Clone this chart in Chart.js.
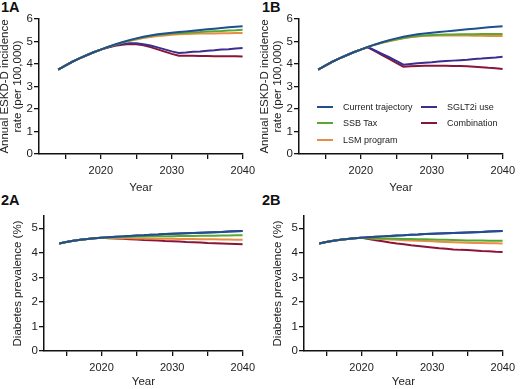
<!DOCTYPE html>
<html>
<head>
<meta charset="utf-8">
<script src="https://cdn.jsdelivr.net/npm/chart.js@4/dist/chart.umd.min.js"></script>
<style>
  body { margin: 0; background: #fff; }
  #wrap { position: relative; width: 520px; height: 389px; overflow: hidden; background: #fff;
          font-family: "Liberation Sans", Arial, sans-serif; }
  canvas { position: absolute; }
  .tag { position: absolute; font-weight: bold; font-size: 14.5px; line-height: 14.5px; color: #111; }
  .leg { position: absolute; font-size: 9px; line-height: 10px; color: #222; white-space: nowrap; }
  .leg i { position: absolute; left: -26px; top: 4px; width: 16px; height: 2px; }
</style>
</head>
<body>
<div id="wrap">
  <div class="tag" style="left:1px;top:0px">1A</div>
  <div class="tag" style="left:262px;top:0px">1B</div>
  <div class="tag" style="left:1px;top:193px">2A</div>
  <div class="tag" style="left:262px;top:193px">2B</div>

  <canvas id="c1A" width="262" height="200" style="left:-2px;top:0px"></canvas>
  <canvas id="c1B" width="262" height="200" style="left:258px;top:0px"></canvas>
  <canvas id="c2A" width="260" height="194" style="left:0px;top:195px"></canvas>
  <canvas id="c2B" width="260" height="194" style="left:260px;top:195px"></canvas>

  <div id="legend"></div>
</div>
<script>
// 年
const years = [2014, 2015, 2016, 2017, 2018, 2019, 2020, 2021, 2022, 2023, 2024, 2025, 2026, 2027,
  2028, 2029, 2030, 2031, 2032, 2033, 2034, 2035, 2036, 2037, 2038, 2039, 2040];

const seriesNames = ['Current trajectory', 'SSB Tax', 'LSM program', 'SGLT2i use', 'Combination'];
const seriesColors = ['#1f4f8e', '#57a832', '#ea8c45', '#3a2f8f', '#8a1538'];

// 1A: ESKD-D incidence (per 100,000)
const eskdCurrent = [3.75, 3.93, 4.10, 4.25, 4.39, 4.52, 4.64, 4.76, 4.87, 4.97, 5.06, 5.14, 5.21, 5.27,
  5.32, 5.36, 5.39, 5.42, 5.45, 5.48, 5.51, 5.54, 5.57, 5.60, 5.63, 5.66, 5.68];
const eskdA_ssb = [3.75, 3.93, 4.10, 4.25, 4.39, 4.52, 4.64, 4.76, 4.86, 4.95, 5.04, 5.12, 5.19, 5.25,
  5.29, 5.32, 5.35, 5.37, 5.39, 5.41, 5.42, 5.44, 5.46, 5.47, 5.49, 5.50, 5.52];
const eskdA_lsm = [3.75, 3.93, 4.10, 4.25, 4.39, 4.52, 4.64, 4.76, 4.85, 4.94, 5.02, 5.09, 5.15, 5.20,
  5.24, 5.27, 5.30, 5.32, 5.33, 5.34, 5.35, 5.36, 5.36, 5.37, 5.37, 5.38, 5.38];
const eskdA_sglt2 = [3.75, 3.93, 4.10, 4.25, 4.39, 4.52, 4.64, 4.74, 4.83, 4.89, 4.92, 4.92, 4.88, 4.82,
  4.74, 4.65, 4.56, 4.49, 4.51, 4.54, 4.56, 4.59, 4.61, 4.64, 4.66, 4.69, 4.71];
const eskdA_combo = [3.75, 3.93, 4.10, 4.25, 4.39, 4.52, 4.64, 4.73, 4.81, 4.86, 4.89, 4.88, 4.83, 4.75,
  4.65, 4.55, 4.45, 4.37, 4.37, 4.37, 4.36, 4.36, 4.35, 4.35, 4.34, 4.34, 4.33];

// 1B
const eskdB_ssb = [3.75, 3.93, 4.10, 4.25, 4.39, 4.52, 4.64, 4.76, 4.86, 4.95, 5.03, 5.10, 5.16, 5.21,
  5.24, 5.27, 5.29, 5.30, 5.31, 5.31, 5.32, 5.32, 5.32, 5.33, 5.33, 5.33, 5.33];
const eskdB_lsm = [3.75, 3.93, 4.10, 4.25, 4.39, 4.52, 4.64, 4.76, 4.85, 4.94, 5.01, 5.08, 5.14, 5.19,
  5.22, 5.25, 5.26, 5.27, 5.27, 5.27, 5.27, 5.27, 5.26, 5.26, 5.25, 5.25, 5.24];
const eskdB_sglt2 = [3.75, 3.93, 4.10, 4.25, 4.39, 4.52, 4.64, 4.75, 4.60, 4.45, 4.30, 4.14, 3.97, 4.00,
  4.03, 4.06, 4.08, 4.11, 4.13, 4.15, 4.17, 4.19, 4.22, 4.24, 4.27, 4.29, 4.32];
const eskdB_combo = [3.75, 3.93, 4.10, 4.25, 4.39, 4.52, 4.64, 4.74, 4.57, 4.40, 4.23, 4.05, 3.88, 3.90,
  3.91, 3.92, 3.92, 3.92, 3.92, 3.91, 3.91, 3.90, 3.88, 3.86, 3.83, 3.81, 3.78];

// 2A / 2B: diabetes prevalence (%)
const dmCurrent = [4.38, 4.44, 4.49, 4.53, 4.56, 4.59, 4.61, 4.63, 4.65, 4.67, 4.69, 4.71, 4.72, 4.74,
  4.75, 4.77, 4.78, 4.79, 4.80, 4.81, 4.82, 4.83, 4.84, 4.85, 4.87, 4.88, 4.89];
const dmA_ssb = [4.38, 4.44, 4.49, 4.53, 4.56, 4.59, 4.61, 4.62, 4.63, 4.64, 4.65, 4.66, 4.66, 4.67,
  4.67, 4.68, 4.68, 4.69, 4.69, 4.69, 4.70, 4.70, 4.70, 4.71, 4.71, 4.72, 4.72];
const dmA_lsm = [4.38, 4.44, 4.49, 4.53, 4.56, 4.59, 4.61, 4.60, 4.60, 4.59, 4.59, 4.58, 4.58, 4.58,
  4.57, 4.57, 4.57, 4.56, 4.56, 4.56, 4.55, 4.55, 4.55, 4.54, 4.54, 4.53, 4.53];
const dmA_combo = [4.38, 4.44, 4.49, 4.53, 4.56, 4.59, 4.61, 4.59, 4.58, 4.57, 4.55, 4.54, 4.52, 4.51,
  4.50, 4.48, 4.47, 4.46, 4.44, 4.43, 4.42, 4.40, 4.39, 4.38, 4.37, 4.36, 4.35];
const dmB_ssb = [4.38, 4.44, 4.49, 4.53, 4.56, 4.59, 4.61, 4.60, 4.59, 4.58, 4.58, 4.57, 4.56, 4.56,
  4.55, 4.55, 4.54, 4.53, 4.53, 4.52, 4.51, 4.50, 4.50, 4.50, 4.49, 4.49, 4.49];
const dmB_lsm = [4.38, 4.44, 4.49, 4.53, 4.56, 4.59, 4.61, 4.59, 4.57, 4.56, 4.54, 4.53, 4.51, 4.50,
  4.49, 4.48, 4.47, 4.45, 4.44, 4.43, 4.42, 4.41, 4.40, 4.40, 4.39, 4.39, 4.38];
const dmB_combo = [4.38, 4.44, 4.49, 4.53, 4.56, 4.59, 4.61, 4.56, 4.51, 4.47, 4.42, 4.38, 4.35, 4.31,
  4.28, 4.25, 4.22, 4.19, 4.17, 4.14, 4.12, 4.11, 4.09, 4.07, 4.06, 4.04, 4.03];

const xTicks = [2015, 2020, 2025, 2030, 2035, 2040];
const yTicksTop = [0, 1, 2, 3, 4, 5, 6];
const yTicksBottom = [0, 1, 2, 3, 4, 5];

const FONT = '"Liberation Sans", Arial, sans-serif';

function makeChart(id, seriesList, opt) {
  // 先頭のデータセットが一番上に描かれる
  const datasets = seriesList.map((vals, i) => ({
    label: seriesNames[i],
    data: years.map((y, k) => ({ x: y, y: vals[k] })),
    borderColor: seriesColors[i],
    borderWidth: 2,
    pointRadius: 0,
    tension: 0,
    fill: false
  }));

  new Chart(document.getElementById(id), {
    type: 'line',
    data: { datasets },
    options: {
      responsive: false,
      animation: false,
      events: [],
      layout: { padding: { top: opt.padTop, right: opt.padRight, left: 0, bottom: 0 } },
      plugins: { legend: { display: false }, tooltip: { enabled: false } },
      scales: {
        x: {
          type: 'linear',
          min: opt.xMin,
          max: 2040,
          afterFit: (s) => { s.height = opt.xHeight; },
          afterBuildTicks: (s) => { s.ticks = xTicks.map(v => ({ value: v })); },
          ticks: {
            color: '#222',
            font: { family: FONT, size: 11 },
            padding: 5,
            maxRotation: 0,
            autoSkip: false,
            callback: (v) => (v % 10 === 0 ? String(v) : '')   // 10年ごとだけラベル
          },
          grid: { drawOnChartArea: false, drawTicks: true, tickLength: 5, color: '#111', lineWidth: 1.3 },
          border: { display: true, color: '#111', width: 1.5 },
          title: {
            display: true,
            text: 'Year',
            color: '#222',
            font: { family: FONT, size: 11.5 },
            padding: { top: 0, bottom: opt.xTitlePad }
          }
        },
        y: {
          min: 0,
          max: opt.yMax,
          afterFit: (s) => { s.width = opt.yWidth; },
          afterBuildTicks: (s) => { s.ticks = opt.yTicks.map(v => ({ value: v })); },
          ticks: {
            color: '#222',
            font: { family: FONT, size: 11.5 },
            padding: 1
          },
          grid: { drawOnChartArea: false, drawTicks: true, tickLength: 5, color: '#111', lineWidth: 1.3 },
          border: { display: true, color: '#111', width: 1.5 },
          title: {
            display: true,
            text: opt.yTitle,
            color: '#222',
            font: { family: FONT, size: 11.5, lineHeight: 1.15 },
            padding: { top: opt.yTitlePad, bottom: 0 }
          }
        }
      }
    }
  });
}

const eskdTitle = ['Annual ESKD-D incidence', 'rate (per 100,000)'];
const topOpt = { padTop: 19, padRight: 15, xMin: 2011.3, xHeight: 46, xTitlePad: 5, yMax: 6,
  yWidth: 41, yTicks: yTicksTop, yTitle: eskdTitle, yTitlePad: 0 };
const botOpt = { padTop: 21, padRight: 13, xMin: 2011.85, xHeight: 38, xTitlePad: 0, yMax: 5.5,
  yWidth: 44, yTicks: yTicksBottom, yTitle: 'Diabetes prevalence (%)', yTitlePad: 11 };

makeChart('c1A', [eskdCurrent, eskdA_ssb, eskdA_lsm, eskdA_sglt2, eskdA_combo], topOpt);
makeChart('c1B', [eskdCurrent, eskdB_ssb, eskdB_lsm, eskdB_sglt2, eskdB_combo], topOpt);
// SGLT2i は糖尿病有病率を変えないので現状と同じ
makeChart('c2A', [dmCurrent, dmA_ssb, dmA_lsm, dmCurrent, dmA_combo], botOpt);
makeChart('c2B', [dmCurrent, dmB_ssb, dmB_lsm, dmCurrent, dmB_combo], botOpt);

// 凡例（1B の中）
const legendPos = [[343, 102], [343, 118], [343, 135], [447, 102], [447, 118]];
const legendBox = document.getElementById('legend');
seriesNames.forEach((name, i) => {
  const d = document.createElement('div');
  d.className = 'leg';
  d.style.left = legendPos[i][0] + 'px';
  d.style.top = legendPos[i][1] + 'px';
  d.innerHTML = '<i style="background:' + seriesColors[i] + '"></i>' + name;
  legendBox.appendChild(d);
});
</script>
</body>
</html>
